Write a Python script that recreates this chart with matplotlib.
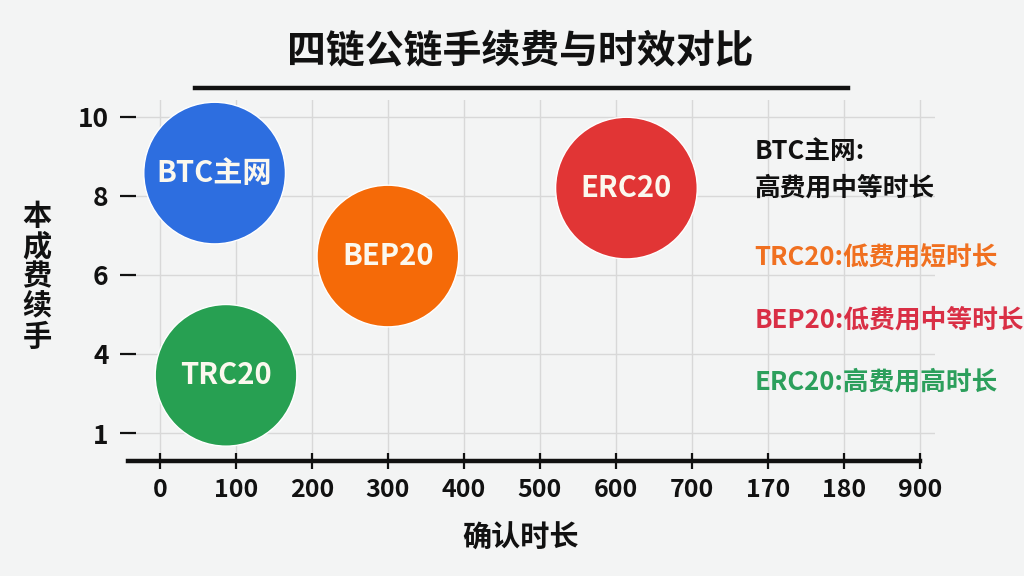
import numpy as np
import matplotlib.pyplot as plt

plt.rcParams['font.family'] = ['Noto Sans CJK SC', 'DejaVu Sans']

# data
names = ['BTC主网', 'BEP20', 'ERC20', 'TRC20']
x_time = [72, 300, 614, 87]          # 确认时长 (按刻度位置读取)
y_fee = [3.29, 2.24, 3.10, 0.73]     # 手续费 (刻度序号位置)
colors = ['#2d6ee0', '#f56a08', '#e13535', '#27a052']

x_ticks = [0, 100, 200, 300, 400, 500, 600, 700, 800, 900, 1000]
x_labels = ['0', '100', '200', '300', '400', '500', '600', '700', '170', '180', '900']
y_ticks = [0, 1, 2, 3, 4]
y_labels = ['1', '4', '6', '8', '10']

notes = ['BTC主网:\n高费用中等时长', 'TRC20:低费用短时长', 'BEP20:低费用中等时长', 'ERC20:高费用高时长']
note_colors = ['#111111', '#f07020', '#d92f45', '#2c9f5c']
note_y = [0.705, 0.552, 0.444, 0.336]

fig = plt.figure(figsize=(10.24, 5.76), dpi=100)
fig.patch.set_facecolor('#f3f4f4')
ax = fig.add_axes([0.125, 0.1997, 0.788, 0.6267])
ax.set_facecolor('none')

ax.scatter(x_time, y_fee, s=10400, c=colors, edgecolors='#ffffff', linewidths=1,
           zorder=3, clip_on=False)
for n, xx, yy in zip(names, x_time, y_fee):
    ax.text(xx, yy, n, color='#fbf8ee', fontsize=21, fontweight='bold',
            ha='center', va='center', zorder=4)

ax.set_xlim(-42, 1020)
ax.set_ylim(-0.354, 4.215)
ax.set_xticks(x_ticks)
ax.set_xticklabels(x_labels)
ax.set_yticks(y_ticks)
ax.set_yticklabels(y_labels)
ax.grid(True, color='#d8d8d8', linewidth=1)
ax.set_axisbelow(True)

for s in ['top', 'right', 'left']:
    ax.spines[s].set_visible(False)
ax.spines['bottom'].set_linewidth(3.2)
ax.spines['bottom'].set_color('#111111')
ax.spines['bottom'].set_bounds(-42, 1000)

ax.tick_params(axis='x', direction='inout', length=12, width=1.6, color='#111111',
               labelsize=18, pad=6, labelcolor='#111111')
ax.tick_params(axis='y', direction='inout', length=12, width=1.6, color='#111111',
               labelsize=19, pad=8, labelcolor='#111111')
for lab in ax.get_xticklabels() + ax.get_yticklabels():
    lab.set_fontweight('bold')

# title and underline
fig.text(0.508, 0.912, '四链公链手续费与时效对比', fontsize=28, fontweight='bold',
         ha='center', va='center', color='#111111')
fig.add_artist(plt.Line2D([0.19, 0.828], [0.847, 0.847], color='#111111', linewidth=3.2))

fig.text(0.508, 0.066, '确认时长', fontsize=21, fontweight='bold', ha='center', va='center',
         color='#111111')
fig.text(0.036, 0.52, '\n'.join('本成费续手'), fontsize=21, fontweight='bold',
         ha='center', va='center', linespacing=1.0, color='#111111')

for t, c, yy in zip(notes, note_colors, note_y):
    fig.text(0.737, yy, t, fontsize=18.5, fontweight='bold', color=c, ha='left',
             va='center', linespacing=1.45)

plt.savefig('out.png', dpi=100, facecolor=fig.get_facecolor())
